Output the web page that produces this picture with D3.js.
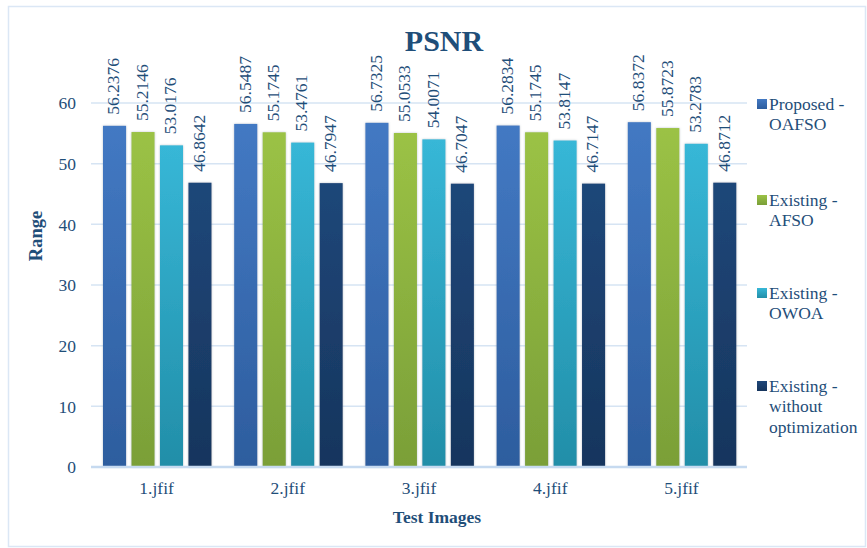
<!DOCTYPE html>
<html>
<head>
<meta charset="utf-8">
<script src="https://cdn.jsdelivr.net/npm/d3@7/dist/d3.min.js"></script>
<style>
  html, body { margin: 0; padding: 0; background: #fff; }
  svg text { font-family: "Liberation Serif", "Times New Roman", serif; }
</style>
</head>
<body>
<svg id="chart" width="867" height="548"></svg>
<script>
// PSNR per test image for each method
const categories = ["1.jfif", "2.jfif", "3.jfif", "4.jfif", "5.jfif"];
const seriesNames = ["Proposed - OAFSO", "Existing - AFSO", "Existing - OWOA", "Existing - without optimization"];
const legendLines = [["Proposed -", "OAFSO"], ["Existing -", "AFSO"], ["Existing -", "OWOA"], ["Existing -", "without", "optimization"]];
const proposedOAFSO = [56.2376, 56.5487, 56.7325, 56.2834, 56.8372];
const existingAFSO = [55.2146, 55.1745, 55.0533, 55.1745, 55.8723];
const existingOWOA = [53.0176, 53.4761, 54.0071, 53.8147, 53.2783];
const existingWithout = [46.8642, 46.7947, 46.7047, 46.7147, 46.8712];
const yTicks = [0, 10, 20, 30, 40, 50, 60];

const seriesValues = [proposedOAFSO, existingAFSO, existingOWOA, existingWithout];
const colors = [
  { top: "#4379c3", bottom: "#2d5d9e" },
  { top: "#9bc245", bottom: "#7a9f38" },
  { top: "#37b7d7", bottom: "#228ea8" },
  { top: "#1f4779", bottom: "#16355d" }
];
const textColor = "#1f4e79";
const fs = 17.5;

const svg = d3.select("#chart");
const W = 867, H = 548;
const plotLeft = 91, plotRight = 747;

// outer frame
svg.append("rect").attr("x", 8.5).attr("y", 6.5).attr("width", W - 10).attr("height", H - 8)
  .attr("fill", "#fff").attr("stroke", "#dbe7f5").attr("stroke-width", 1.5);

const defs = svg.append("defs");
colors.forEach((c, i) => {
  const g = defs.append("linearGradient").attr("id", "grad" + i)
    .attr("x1", 0).attr("y1", 0).attr("x2", 0).attr("y2", 1);
  g.append("stop").attr("offset", "0%").attr("stop-color", c.top);
  g.append("stop").attr("offset", "100%").attr("stop-color", c.bottom);
});
const shadow = defs.append("filter").attr("id", "soft").attr("x", "-30%").attr("y", "-10%").attr("width", "160%").attr("height", "120%");
shadow.append("feDropShadow").attr("dx", 0).attr("dy", 0).attr("stdDeviation", 1.2)
  .attr("flood-color", "#6a7a8c").attr("flood-opacity", 0.45);

const x0 = d3.scaleBand().domain(categories).range([plotLeft, plotRight]).paddingInner(0).paddingOuter(0);
const x1 = d3.scaleBand().domain(d3.range(seriesNames.length)).range([12, 120.5]).paddingInner(0.19).paddingOuter(0);
const y = d3.scaleLinear().domain([0, 60]).range([467, 103]);

// gridlines
svg.append("g").selectAll("line").data(yTicks.filter(t => t > 0)).join("line")
  .attr("x1", plotLeft).attr("x2", plotRight)
  .attr("y1", d => y(d)).attr("y2", d => y(d))
  .attr("stroke", "#d6e4f3").attr("stroke-width", 1.5);

// y axis tick labels
const yAxis = d3.axisLeft(y).tickValues(yTicks).tickSize(0).tickPadding(0);
const gy = svg.append("g").attr("transform", "translate(76,0)").call(yAxis);
gy.select(".domain").remove();
gy.selectAll("text").attr("fill", textColor).attr("font-size", fs)
  .attr("font-family", "Liberation Serif, serif").attr("dy", "0.33em");

// bars
const groups = svg.append("g").selectAll("g").data(categories).join("g")
  .attr("transform", d => `translate(${x0(d)},0)`);

groups.selectAll("rect").data((d, ci) => seriesValues.map((s, si) => ({ si, v: s[ci] })))
  .join("rect")
  .attr("x", d => x1(d.si)).attr("width", x1.bandwidth())
  .attr("y", d => y(d.v)).attr("height", d => y(0) - y(d.v))
  .attr("fill", d => `url(#grad${d.si})`)
  .attr("filter", "url(#soft)");

// value labels
groups.selectAll("text.val").data((d, ci) => seriesValues.map((s, si) => ({ si, v: s[ci] })))
  .join("text").attr("class", "val")
  .attr("transform", d => `translate(${x1(d.si) + x1.bandwidth() / 2 - 1},${y(d.v) - 11}) rotate(-90)`)
  .attr("dy", "0.33em").attr("text-anchor", "start")
  .attr("fill", textColor).attr("font-size", fs)
  .text(d => d.v.toFixed(4));

// baseline
svg.append("line").attr("x1", plotLeft).attr("x2", plotRight)
  .attr("y1", y(0)).attr("y2", y(0)).attr("stroke", "#c6daf0").attr("stroke-width", 2.5);

// x axis labels
const xAxis = d3.axisBottom(x0).tickSize(0).tickPadding(0);
const gx = svg.append("g").attr("transform", `translate(0,${y(0) + 21})`).call(xAxis);
gx.select(".domain").remove();
gx.selectAll("text").attr("fill", textColor).attr("font-size", fs)
  .attr("font-family", "Liberation Serif, serif").attr("dy", "0.33em");

// title and axis titles
svg.append("text").attr("x", 444).attr("y", 51).attr("text-anchor", "middle")
  .attr("fill", textColor).attr("font-size", 30).attr("font-weight", "bold").text("PSNR");
svg.append("text").attr("x", 437).attr("y", 523).attr("text-anchor", "middle")
  .attr("fill", textColor).attr("font-size", fs).attr("font-weight", "bold").text("Test Images");
svg.append("text").attr("transform", "translate(42,236) rotate(-90)").attr("text-anchor", "middle")
  .attr("fill", textColor).attr("font-size", 18.5).attr("font-weight", "bold").text("Range");

// legend
const legendY = [104, 200, 293, 386];
const lg = svg.append("g").selectAll("g").data(seriesNames).join("g")
  .attr("transform", (d, i) => `translate(757,${legendY[i]})`);
lg.append("rect").attr("x", 0).attr("y", -5).attr("width", 10).attr("height", 10)
  .attr("fill", (d, i) => `url(#grad${i})`);
lg.append("text").attr("x", 12).attr("y", 0).attr("fill", textColor).attr("font-size", fs)
  .selectAll("tspan").data((d, i) => legendLines[i]).join("tspan")
  .attr("x", 12).attr("dy", (d, j) => j === 0 ? "0.33em" : "1.18em").text(d => d);
</script>
</body>
</html>
